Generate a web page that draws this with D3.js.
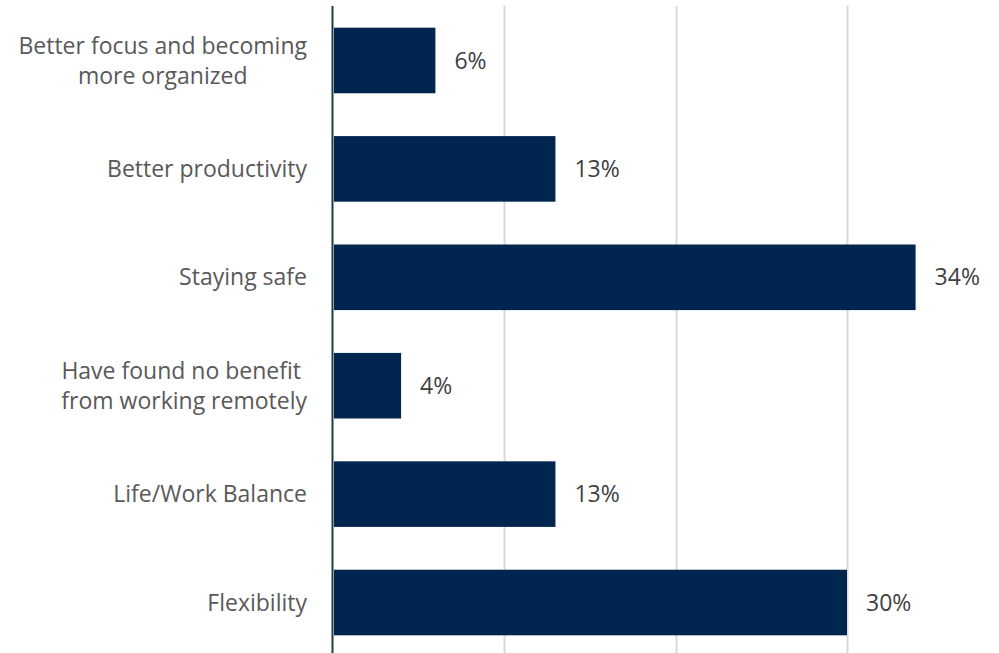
<!DOCTYPE html>
<html>
<head>
<meta charset="utf-8">
<script src="https://cdn.jsdelivr.net/npm/d3@7"></script>
<style>
  html, body { margin: 0; padding: 0; background: #fff; }
  svg { display: block; }
  text { font-family: "Open Sans", "Noto Sans", sans-serif; white-space: pre; }
</style>
</head>
<body>
<svg id="chart" width="999" height="653"></svg>
<script>
// Survey answers, top to bottom (wrapped lines kept as written)
const categories = [
  ["Better focus and becoming", "more organized"],
  ["Better productivity"],
  ["Staying safe"],
  ["Have found no benefit ", "from working remotely"],
  ["Life/Work Balance"],
  ["Flexibility"]
];
const values = [6, 13, 34, 4, 13, 30];
const gridTicks = [0, 10, 20, 30];

const svg = d3.select("#chart");
const W = 999, H = 653;
const x0 = 332.5;
const labelRight = 307;

const x = d3.scaleLinear().domain([0, 30]).range([x0, 847]);
const y = d3.scaleBand()
  .domain(d3.range(categories.length))
  .range([6, 657])
  .paddingInner(0.395)
  .paddingOuter(0.2);

// vertical gridlines
svg.append("g")
  .selectAll("line")
  .data(gridTicks.slice(1))
  .join("line")
  .attr("x1", d => Math.round(x(d)) + 0.5)
  .attr("x2", d => Math.round(x(d)) + 0.5)
  .attr("y1", 6)
  .attr("y2", H)
  .attr("stroke", "#d9d9d9")
  .attr("stroke-width", 2);

// bars
svg.append("g")
  .selectAll("rect")
  .data(values)
  .join("rect")
  .attr("x", x(0) + 1.5)
  .attr("y", (d, i) => y(i))
  .attr("width", d => x(d) - x(0) - 1.5)
  .attr("height", y.bandwidth())
  .attr("fill", "#002650");

// value labels
svg.append("g")
  .selectAll("text")
  .data(values)
  .join("text")
  .attr("x", d => x(d) + 19)
  .attr("y", (d, i) => y(i) + y.bandwidth() / 2)
  .attr("dy", "0.35em")
  .attr("font-size", 23)
  .attr("fill", "#404040")
  .text(d => d + "%");

// category labels: block right-aligned to the axis, lines centred in the block
const lab = svg.append("g")
  .selectAll("text")
  .data(categories)
  .join("text")
  .attr("text-anchor", "middle")
  .attr("font-size", 23)
  .attr("fill", "#595959");

lab.selectAll("tspan")
  .data(d => d.map((t, k) => ({ t, k, n: d.length })))
  .join("tspan")
  .attr("y", d => (d.k - (d.n - 1) / 2) * 30)
  .attr("dy", "0.35em")
  .text(d => d.t);

lab.each(function (d, i) {
  const spans = d3.select(this).selectAll("tspan").nodes();
  const maxW = d3.max(spans, s => s.getComputedTextLength());
  const cx = labelRight - maxW / 2;
  d3.select(this).selectAll("tspan").attr("x", 0);
  d3.select(this).attr("transform", `translate(${cx}, ${y(i) + y.bandwidth() / 2})`);
});

// category axis line
svg.append("line")
  .attr("x1", x0).attr("x2", x0)
  .attr("y1", 6).attr("y2", H)
  .attr("stroke", "#1c3d47")
  .attr("stroke-width", 2);
</script>
</body>
</html>
